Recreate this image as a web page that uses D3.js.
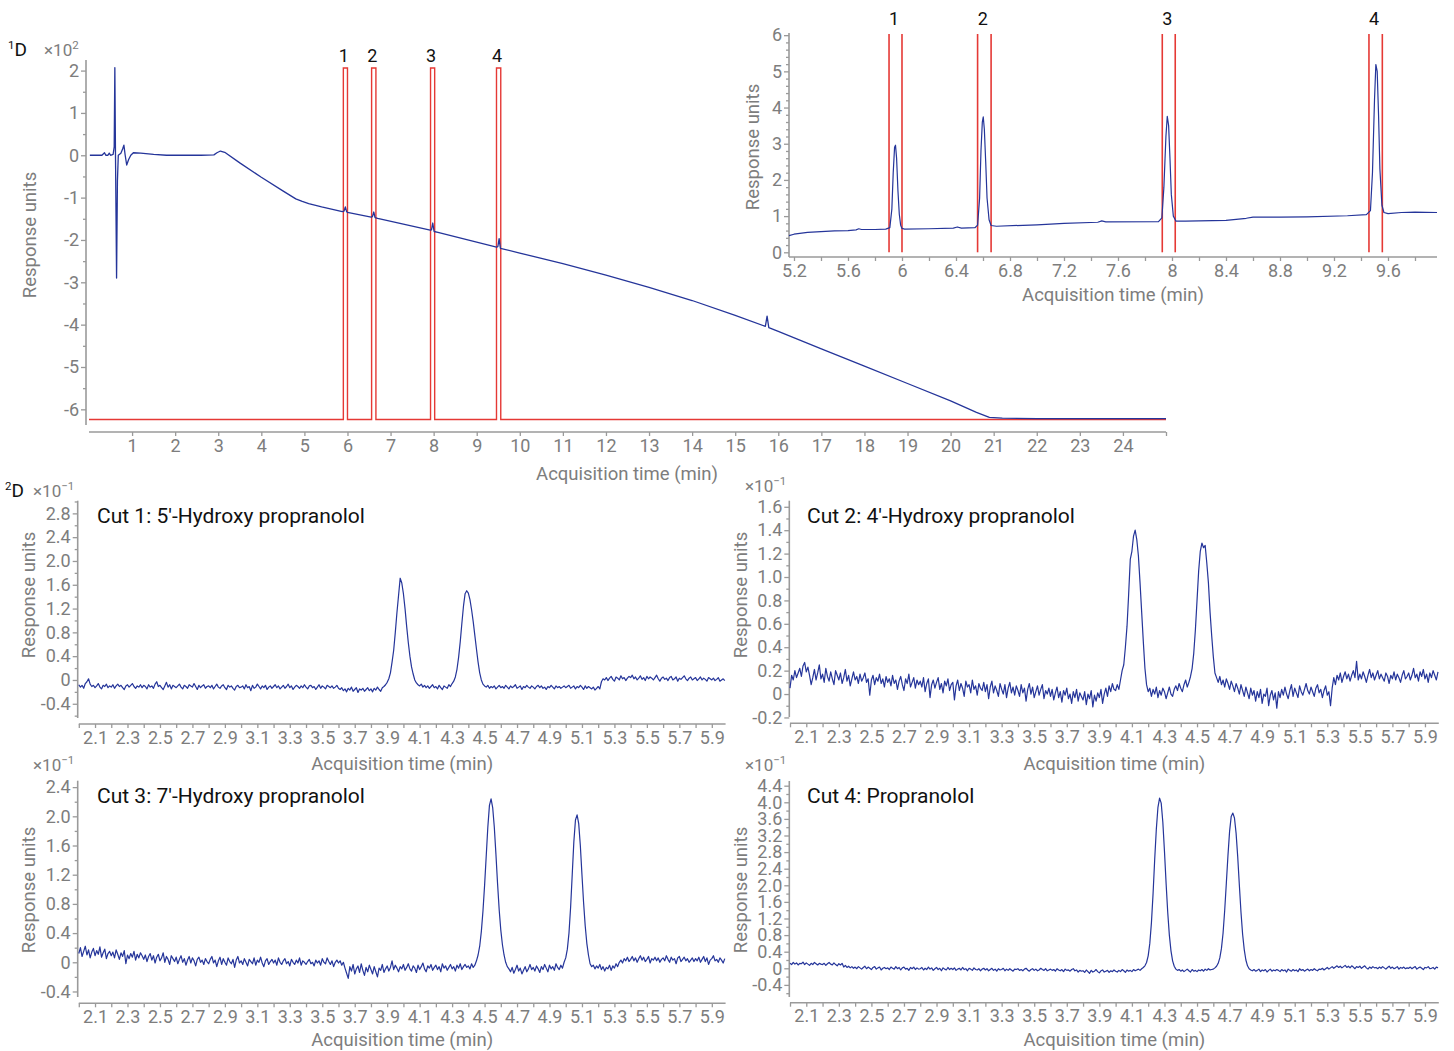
<!DOCTYPE html>
<html><head><meta charset="utf-8">
<script src="https://cdn.jsdelivr.net/npm/d3@7"></script>
<style>body{margin:0;background:#fff;} svg{display:block;} text{font-family:Roboto,"Noto Sans",sans-serif;}</style>
</head><body>
<svg id="chart" width="1454" height="1051"></svg>
<script>
// ================= DATA =================
// 1D chromatogram (x10^2 response units) : [time min, value]
const mainTrace = [
[0.02,0],[0.3,0],[0.36,0.06],[0.39,0.0],[0.44,0.0],[0.47,0.05],[0.5,0.0],[0.56,0.02],[0.585,0.2],[0.6,2.07],
[0.615,0.0],[0.64,-2.9],[0.66,-0.6],[0.68,0.0],[0.74,0.05],[0.78,0.15],[0.81,0.24],[0.84,0.0],[0.875,-0.23],[0.92,-0.1],
[0.97,0.0],[1.03,0.06],[1.2,0.05],[1.5,0.02],[1.8,0.0],[2.2,0.0],[2.6,0.0],[2.9,0.01],[2.97,0.06],[3.05,0.1],
[3.15,0.07],[3.5,-0.18],[4.0,-0.52],[4.5,-0.84],[4.8,-1.03],[4.95,-1.09],[5.1,-1.14],[5.4,-1.22],[5.88,-1.33],[5.92,-1.32],
[5.95,-1.22],[5.98,-1.33],[6.0,-1.35],[6.55,-1.46],[6.58,-1.45],[6.61,-1.34],[6.64,-1.47],[6.7,-1.49],[7.92,-1.77],[7.95,-1.76],
[7.98,-1.6],[8.01,-1.8],[8.1,-1.82],[9.46,-2.17],[9.49,-2.16],[9.52,-1.97],[9.55,-2.2],[9.6,-2.21],[10,-2.31],[11,-2.56],
[12,-2.83],[13,-3.12],[14,-3.43],[15,-3.78],[15.7,-4.04],[15.74,-3.8],[15.78,-4.07],[16,-4.16],[17,-4.57],[18,-4.98],
[19,-5.39],[20,-5.8],[20.6,-6.07],[20.9,-6.19],[21.2,-6.21],[22,-6.22],[25,-6.22]
];
// heart-cut windows (min)
const cutWindows = [[5.904,6.0],[6.56,6.66],[7.928,8.024],[9.459,9.558]];
const cutNumbers = ["1","2","3","4"];
const cutSignalLow = -6.24, cutSignalHigh = 2.06;   // 1D cut-valve trace levels (x10^2)
const cutSignalEnd = 25;

// zoomed 1D view (response units): [time, value]
const insetTrace = [
[5.163,0.46],[5.2,0.5],[5.3,0.55],[5.4,0.57],[5.5,0.59],[5.6,0.6],[5.66,0.62],[5.68,0.65],[5.7,0.63],[5.8,0.63],
[5.88,0.64],[5.91,0.68],[5.925,1.2],[5.935,2.2],[5.945,2.9],[5.952,2.96],[5.96,2.6],[5.97,1.7],[5.98,1.05],[5.99,0.75],
[6.0,0.66],[6.02,0.64],[6.2,0.65],[6.38,0.67],[6.41,0.7],[6.44,0.67],[6.54,0.68],[6.56,0.75],[6.575,1.5],[6.585,2.8],
[6.595,3.6],[6.602,3.74],[6.61,3.4],[6.62,2.5],[6.63,1.5],[6.645,0.9],[6.66,0.74],[6.7,0.72],[7.0,0.76],[7.2,0.8],
[7.45,0.83],[7.48,0.87],[7.51,0.84],[7.9,0.85],[7.925,0.95],[7.94,1.8],[7.955,3.2],[7.965,3.76],[7.975,3.5],[7.985,2.6],
[7.995,1.6],[8.01,1.0],[8.03,0.86],[8.1,0.86],[8.4,0.88],[8.55,0.94],[8.6,0.97],[8.8,0.97],[9.0,0.98],[9.3,1.01],
[9.44,1.04],[9.47,1.15],[9.485,2.2],[9.5,4.2],[9.51,5.19],[9.52,5.0],[9.53,3.8],[9.54,2.3],[9.555,1.3],[9.57,1.1],
[9.6,1.07],[9.7,1.1],[9.8,1.11],[9.963,1.1]
];

// 2D traces: samples every 0.01 min from 2.00 min, values in hundredths (x10^-1 response units)
const cutStart = 2.0, cutStep = 0.01;
const cut1Values = [
-8,-12,-9,-14,-6,-3,2,-7,-11,-9,-13,-10,-6,-12,-15,-9,-11,-7,-13,-10,
-12,-8,-14,-10,-7,-11,-9,-13,-16,-10,-8,-12,-9,-6,-11,-14,-10,-12,-8,-13,
-9,-11,-15,-8,-12,-10,-14,-7,-3,-11,-9,-13,-16,-10,-4,-12,-8,-15,-9,-11,
-13,-10,-7,-12,-15,-9,-11,-14,-8,-10,-12,-6,-11,-16,-9,-13,-10,-8,-14,-11,
-10,-13,-9,-15,-11,-7,-12,-14,-10,-8,-13,-16,-9,-12,-10,-14,-17,-11,-9,-13,
-12,-10,-15,-8,-13,-11,-18,-9,-14,-12,-7,-11,-15,-10,-13,-9,-16,-12,-10,-14,
-11,-8,-13,-10,-15,-12,-9,-14,-11,-7,-13,-10,-16,-12,-9,-11,-14,-10,-13,-8,
-12,-15,-10,-9,-13,-11,-16,-12,-8,-14,-10,-12,-15,-9,-11,-13,-10,-14,-12,-9,
-14,-16,-13,-18,-15,-20,-14,-17,-12,-19,-16,-13,-21,-15,-17,-14,-19,-16,-13,-18,
-15,-20,-14,-17,-12,-16,-19,-13,-11,-8,-4,2,12,30,50,80,113,142,171,163,
145,120,90,63,40,22,10,0,-5,-8,-10,-7,-12,-9,-13,-10,-14,-11,-8,-13,
-11,-15,-9,-13,-16,-10,-12,-14,-8,-11,-6,-2,5,18,38,64,95,124,145,150,
146,135,118,98,75,52,30,12,0,-7,-10,-12,-9,-14,-11,-13,-10,-15,-12,-9,
-13,-11,-14,-9,-12,-15,-10,-13,-11,-8,-14,-12,-10,-16,-11,-13,-9,-12,-14,-10,
-12,-15,-11,-9,-13,-10,-14,-12,-16,-11,-13,-9,-12,-15,-10,-13,-11,-14,-12,-10,
-13,-11,-9,-14,-12,-10,-15,-11,-13,-9,-12,-16,-10,-14,-11,-13,-15,-12,-17,-14,
-11,-15,-3,2,0,4,-1,3,6,1,-2,5,3,0,7,2,4,-1,3,6,
4,8,2,5,0,3,7,1,4,-1,6,2,5,3,0,4,8,2,-2,3,
5,1,3,-1,4,6,0,2,5,-2,3,1,4,7,2,-1,3,5,0,2,
4,-1,2,5,0,3,1,-2,4,2,0,3,-1,1,4,-2,0,2,-1,1
];
const cut2Values = [
5,16,12,20,14,18,22,15,24,27,19,23,16,8,14,21,12,18,25,13,
17,10,22,15,11,19,13,8,20,16,12,18,9,14,21,11,16,7,13,19,
12,15,9,17,11,14,18,10,13,-1,12,16,8,14,11,17,9,13,6,15,
10,13,7,16,9,12,4,11,15,8,3,13,9,17,6,10,14,5,12,8,
11,6,14,2,9,13,-3,8,12,5,10,14,4,9,1,11,7,13,3,8,
10,-5,7,12,3,9,5,-2,11,6,8,1,12,4,7,-1,9,5,3,10,
2,8,-4,6,11,1,7,3,-2,9,4,0,8,-3,5,10,1,6,-1,7,
3,-2,8,1,5,-6,4,9,0,6,-3,2,7,-1,4,8,-4,3,0,5,
-2,4,-5,1,6,-3,2,-7,3,-1,5,-4,0,-8,2,-3,4,-6,1,-2,
-5,2,-9,0,-4,3,-11,-1,-6,1,-3,4,-8,0,5,-2,7,2,9,4,
3,8,4,12,20,25,40,58,85,115,122,135,140,132,118,95,70,45,22,8,
2,5,-2,4,0,6,-3,3,-1,5,2,-4,1,6,0,-2,4,7,3,9,
5,2,8,12,6,10,15,22,35,55,80,105,122,129,125,127,112,95,70,50,
32,18,14,10,15,8,12,6,13,9,4,11,7,2,9,5,0,8,3,-2,
6,1,-4,5,-1,3,-6,2,-3,4,-8,0,-2,5,-10,-1,3,-5,1,-12,
2,-3,4,-1,6,0,-4,3,8,-2,5,1,-3,7,2,-1,4,9,3,0,
6,2,-2,5,8,1,4,-3,3,7,-1,2,-10,5,14,8,16,12,18,10,
15,19,13,17,11,16,20,14,28,12,17,13,19,15,10,16,21,14,18,12,
16,20,13,17,14,11,18,15,9,16,13,19,12,17,14,10,16,20,13,15,
18,12,16,22,14,17,11,19,15,21,13,17,10,18,14,20,16,12,19,15
];
const cut3Values = [
12,20,8,15,22,10,17,6,14,19,9,16,11,21,7,13,18,5,12,15,
9,14,6,17,11,4,13,8,16,-2,10,5,12,7,15,3,11,6,13,9,
4,10,1,8,12,3,9,-1,7,11,2,6,13,0,8,4,-3,9,5,1,
7,-2,4,9,0,5,-4,3,8,-1,6,2,-5,4,7,0,3,-3,5,1,
-2,4,8,-1,3,-6,2,7,-3,5,0,-4,6,1,-2,4,-7,3,8,-1,
2,-3,5,0,-5,4,1,-2,6,-4,3,0,7,-1,-6,2,5,-3,1,4,
-1,3,-4,6,0,-3,2,5,-2,1,-5,4,0,-3,3,-1,6,-4,2,0,
-3,1,4,-2,0,-5,3,-1,2,-4,5,0,-2,6,1,-3,2,-6,0,3,
-1,2,-4,0,-8,-15,-22,-6,-12,-3,-16,-9,-5,-14,-2,-11,-18,-7,-13,-4,
-10,-16,-6,-13,-20,-8,-11,-3,-14,-9,-5,-12,-7,2,-10,-4,-8,-13,-6,-9,
-3,-11,-7,-2,-9,-12,-5,-8,-14,-4,-10,-6,-1,-9,-13,-5,-8,-3,-11,-7,
-4,-10,-6,-13,-2,-8,-5,-11,-7,-3,-9,-6,-12,-4,-8,-2,-10,-6,-3,-7,
-5,-9,-2,-7,-4,2,10,22,42,70,105,145,185,215,224,212,185,148,108,72,
44,24,10,0,-6,-9,-13,-7,-15,-10,-4,-12,-8,-16,-11,-6,-13,-9,-3,-10,
-7,-12,-5,-9,-14,-6,-10,-3,-8,-13,-4,-9,-6,-11,-2,-7,-10,-4,-8,0,
6,18,40,75,120,165,195,202,190,160,120,82,50,26,10,-2,-6,-4,-9,-5,
-8,-3,-10,-6,-12,-7,-9,-4,-11,-5,-8,-2,-6,0,3,-1,5,2,7,1,
4,8,2,6,0,5,9,3,7,1,4,8,-1,5,3,7,2,6,0,4,
6,2,9,4,0,7,3,5,-2,6,8,1,4,7,2,5,0,3,6,1,
5,2,7,0,4,8,1,6,-3,3,5,9,2,4,0,6,3,-1,5,2
];
const cut4Values = [
12,9,14,10,13,8,12,11,15,9,13,10,7,12,9,14,11,8,12,10,
9,12,7,11,14,10,8,13,9,6,11,8,12,3,7,2,5,1,4,0,
3,-1,4,1,-2,2,5,-1,3,0,-3,2,4,-2,1,3,-4,0,2,-1,
1,-3,3,0,-2,4,-1,2,-4,1,3,-2,0,-5,2,-1,3,-3,1,-2,
-1,2,-4,0,-3,3,-2,1,-5,-1,2,-3,0,-6,1,-2,-4,2,-3,0,
-3,1,-5,-2,0,-4,2,-3,-1,-6,0,-2,-5,1,-3,-4,-1,-6,-2,0,
-4,-1,-6,-3,0,-5,-2,-7,-1,-4,-3,0,-6,-2,-5,-1,-4,-7,-2,-3,
-1,-5,-3,-6,-2,0,-4,-7,-3,-1,-5,-2,-6,-4,0,-3,-5,-1,-6,-4,
-2,-5,-3,-7,-1,-4,-6,-3,-8,-2,-5,-4,-7,-3,-1,-6,-4,-9,-5,-7,
-6,-10,-4,-8,-12,-5,-9,-7,-3,-8,-11,-6,-4,-9,-7,-5,-10,-6,-8,-4,
-7,-9,-5,-8,-3,-6,-10,-4,-7,-5,-8,-3,-6,-4,-2,-5,-1,2,6,14,
30,60,110,180,262,335,388,410,398,352,282,205,135,80,42,18,5,-2,-5,-3,
-7,-4,-8,-5,-2,-6,-9,-3,-7,-5,-8,-4,-6,-3,-7,-2,-5,-1,-4,-3,
-2,1,5,12,25,48,85,140,205,272,330,366,374,362,325,268,200,135,82,45,
20,6,-1,-4,-6,-3,-7,-5,-2,-8,-4,-6,-3,-9,-5,-2,-7,-4,-6,-3,
-5,-8,-3,-6,-4,-9,-2,-5,-7,-3,-6,-4,-8,-1,-5,-3,-7,-4,-2,-6,
-3,-5,-1,-4,-6,-2,-3,0,-4,-1,2,-2,1,4,0,3,6,2,5,1,
4,7,2,5,1,6,3,-1,4,2,5,0,3,6,1,-2,3,0,4,1,
2,-1,3,0,4,1,-2,2,5,0,3,-1,1,4,-2,2,0,3,-1,1,
0,3,-1,2,4,-2,1,3,0,-3,2,1,4,-1,0,2,-2,3,1,0
];
const cutTitles = ["Cut 1: 5'-Hydroxy propranolol","Cut 2: 4'-Hydroxy propranolol","Cut 3: 7'-Hydroxy propranolol","Cut 4: Propranolol"];

// tick values
const mainXTicks = [1,2,3,4,5,6,7,8,9,10,11,12,13,14,15,16,17,18,19,20,21,22,23,24];
const mainXEnd = [25];
const mainYTicks = [-6,-5,-4,-3,-2,-1,0,1,2];
const mainYMinor = [-5.5,-4.5,-3.5,-2.5,-1.5,-0.5,0.5,1.5];
const insetXTicks = [5.2,5.6,6,6.4,6.8,7.2,7.6,8,8.4,8.8,9.2,9.6];
const insetXMinor = [5.4,5.8,6.2,6.6,7.0,7.4,7.8,8.2,8.6,9.0,9.4,9.8];
const insetYTicks = [0,1,2,3,4,5,6];
const insetYMinor = [0.2,0.4,0.6,0.8,1.2,1.4,1.6,1.8,2.2,2.4,2.6,2.8,3.2,3.4,3.6,3.8,4.2,4.4,4.6,4.8,5.2,5.4,5.6,5.8];
const cutXTicks = [2.1,2.3,2.5,2.7,2.9,3.1,3.3,3.5,3.7,3.9,4.1,4.3,4.5,4.7,4.9,5.1,5.3,5.5,5.7,5.9];
const cutXMinor = [2.0,2.2,2.4,2.6,2.8,3.0,3.2,3.4,3.6,3.8,4.0,4.2,4.4,4.6,4.8,5.0,5.2,5.4,5.6,5.8];
const cut1YTicks = [-0.4,0,0.4,0.8,1.2,1.6,2.0,2.4,2.8];
const cut1YMinor = [-0.6,-0.2,0.2,0.6,1.0,1.4,1.8,2.2,2.6,3.0];
const cut2YTicks = [-0.2,0,0.2,0.4,0.6,0.8,1.0,1.2,1.4,1.6];
const cut2YMinor = [-0.1,0.1,0.3,0.5,0.7,0.9,1.1,1.3,1.5];
const cut3YTicks = [-0.4,0,0.4,0.8,1.2,1.6,2.0,2.4];
const cut3YMinor = [-0.2,0.2,0.6,1.0,1.4,1.8,2.2];
const cut4YTicks = [-0.4,0,0.4,0.8,1.2,1.6,2.0,2.4,2.8,3.2,3.6,4.0,4.4];
const cut4YMinor = [-0.6,-0.2,0.2,0.6,1.0,1.4,1.8,2.2,2.6,3.0,3.4,3.8,4.2];

// ================= DRAWING =================
const svg = d3.select("#chart");
const AXIS = "#9a9a9a", LABEL = "#7d7d7d", BLUE = "#25359a", RED = "#e53935", FONT = "Roboto, 'Noto Sans', sans-serif";
const TICKFS = 18, TITLEFS = 18.5;

function styleAxis(g, fs) {
  g.attr("font-family", FONT).attr("font-size", fs);
  g.select(".domain").remove();
  g.selectAll(".tick line").attr("stroke", AXIS).attr("stroke-width", 1.3);
  g.selectAll(".tick text").attr("fill", LABEL);
}
function hline(y, x1, x2) { svg.append("line").attr("x1", x1).attr("x2", x2).attr("y1", y).attr("y2", y).attr("stroke", AXIS).attr("stroke-width", 1.6); }
function vline(x, y1, y2) { svg.append("line").attr("x1", x).attr("x2", x).attr("y1", y1).attr("y2", y2).attr("stroke", AXIS).attr("stroke-width", 1.6); }
function ytitle(cx, cy) {
  svg.append("text").attr("transform", `translate(${cx},${cy}) rotate(-90)`).attr("text-anchor", "middle")
    .attr("dominant-baseline", "central").attr("font-size", TITLEFS).attr("fill", LABEL).text("Response units");
}
function xtitle(cx, y) {
  svg.append("text").attr("x", cx).attr("y", y).attr("text-anchor", "middle").attr("font-size", TITLEFS).attr("fill", LABEL).text("Acquisition time (min)");
}
function multiplier(x, y, exp) {
  const t = svg.append("text").attr("x", x).attr("y", y).attr("font-size", 17).attr("fill", LABEL);
  t.append("tspan").text("×10");
  t.append("tspan").attr("dy", -7).attr("font-size", 11.5).text(exp);
}
function dimLabel(x, y, sup) {
  const t = svg.append("text").attr("x", x).attr("y", y).attr("font-size", 19).attr("fill", "#111");
  t.append("tspan").attr("dy", -7).attr("font-size", 11.5).text(sup);
  t.append("tspan").attr("dy", 7).text("D");
}
function drawAxes(o) {
  svg.append("g").attr("transform", `translate(0,${o.xAxisY})`)
    .call(d3.axisBottom(o.x).tickValues(o.xTicks).tickSize(4).tickSizeOuter(0).tickPadding(3).tickFormat(o.xFmt))
    .call(g => styleAxis(g, o.fs));
  svg.append("g").attr("transform", `translate(0,${o.xAxisY})`)
    .call(d3.axisBottom(o.x).tickValues(o.xMinor).tickSize(o.xMinorSize).tickSizeOuter(0).tickFormat(() => ""))
    .call(g => styleAxis(g, o.fs));
  hline(o.xAxisY, o.x.range()[0], o.x.range()[1]);
  svg.append("g").attr("transform", `translate(${o.yAxisX},0)`)
    .call(d3.axisLeft(o.y).tickValues(o.yTicks).tickSize(5).tickSizeOuter(0).tickPadding(2).tickFormat(o.yFmt))
    .call(g => styleAxis(g, o.fs));
  svg.append("g").attr("transform", `translate(${o.yAxisX},0)`)
    .call(d3.axisLeft(o.y).tickValues(o.yMinor).tickSize(3).tickSizeOuter(0).tickFormat(() => ""))
    .call(g => styleAxis(g, o.fs));
  vline(o.yAxisX, o.yTop, o.yLineBottom);
}
const fmtDec = v => v === 0 ? "0" : v.toFixed(1);
const fmtPlain = v => String(v);

// ---------- 1D main chromatogram ----------
const mx = d3.scaleLinear().domain([0, 25]).range([89, 1166]);
const my = d3.scaleLinear().domain([-6.37, 2.25]).range([425, 60]);
drawAxes({x: mx, y: my, xAxisY: 432, yAxisX: 86, yTop: 60, yLineBottom: 425, xTicks: mainXTicks, xMinor: mainXEnd, xMinorSize: 4,
  yTicks: mainYTicks, yMinor: mainYMinor, xFmt: fmtPlain, yFmt: fmtPlain, fs: TICKFS});
const redPts = [[0, cutSignalLow]];
cutWindows.forEach(w => { redPts.push([w[0], cutSignalLow], [w[0], cutSignalHigh], [w[1], cutSignalHigh], [w[1], cutSignalLow]); });
redPts.push([cutSignalEnd, cutSignalLow]);
svg.append("path").attr("d", d3.line().x(d => mx(d[0])).y(d => my(d[1]))(redPts))
  .attr("fill", "none").attr("stroke", RED).attr("stroke-width", 1.4);
svg.append("path").attr("d", d3.line().x(d => mx(d[0])).y(d => my(d[1]))(mainTrace))
  .attr("fill", "none").attr("stroke", BLUE).attr("stroke-width", 1.3).attr("stroke-linejoin", "round");
cutWindows.forEach((w, i) => {
  svg.append("text").attr("x", mx((w[0] + w[1]) / 2) - 1.5).attr("y", 62).attr("text-anchor", "middle")
    .attr("font-size", 18).attr("fill", "#111").text(cutNumbers[i]);
});
dimLabel(8, 56, "1");
multiplier(44, 56, "2");
ytitle(30, 235);
xtitle(627, 480);

// ---------- inset ----------
const ix = d3.scaleLinear().domain([5.163, 9.963]).range([789, 1437]);
const iy = d3.scaleLinear().domain([-0.13, 6.06]).range([257, 33]);
drawAxes({x: ix, y: iy, xAxisY: 257, yAxisX: 789, yTop: 33, yLineBottom: 257, xTicks: insetXTicks, xMinor: insetXMinor, xMinorSize: 4,
  yTicks: insetYTicks, yMinor: insetYMinor, xFmt: fmtPlain, yFmt: fmtPlain, fs: TICKFS});
cutWindows.forEach((w, i) => {
  w.forEach(t => {
    svg.append("line").attr("x1", ix(t)).attr("x2", ix(t)).attr("y1", iy(0)).attr("y2", 34)
      .attr("stroke", RED).attr("stroke-width", 1.6);
  });
  svg.append("text").attr("x", ix((w[0] + w[1]) / 2) - 1.5).attr("y", 25).attr("text-anchor", "middle")
    .attr("font-size", 18).attr("fill", "#111").text(cutNumbers[i]);
});
svg.append("path").attr("d", d3.line().x(d => ix(d[0])).y(d => iy(d[1]))(insetTrace))
  .attr("fill", "none").attr("stroke", BLUE).attr("stroke-width", 1.2).attr("stroke-linejoin", "round");
ytitle(753, 147);
xtitle(1113, 301);

// ---------- 2D panels ----------
const panels = [
  {vals: cut1Values, title: cutTitles[0], x0: 78.8, x1: 725.6, yAxisX: 77.7, top: 500.7, xAxisY: 724, yDom: [-0.74, 3.013], yLineBottom: 718,
   yTicks: cut1YTicks, yMinor: cut1YMinor, titleX: 97, titleY: 523, ytX: 29, ytY: 595, xtY: 770, multX: 33, multY: 497},
  {vals: cut2Values, title: cutTitles[1], x0: 790, x1: 1438.8, yAxisX: 789.3, top: 500.7, xAxisY: 723.3, yDom: [-0.25, 1.652], yLineBottom: 717,
   yTicks: cut2YTicks, yMinor: cut2YMinor, titleX: 807, titleY: 523, ytX: 741, ytY: 595, xtY: 770, multX: 745, multY: 492},
  {vals: cut3Values, title: cutTitles[2], x0: 78.8, x1: 725.6, yAxisX: 77.7, top: 780.7, xAxisY: 1003.3, yDom: [-0.562, 2.488], yLineBottom: 997,
   yTicks: cut3YTicks, yMinor: cut3YMinor, titleX: 97, titleY: 803, ytX: 29, ytY: 890, xtY: 1046, multX: 33, multY: 771},
  {vals: cut4Values, title: cutTitles[3], x0: 790, x1: 1438.8, yAxisX: 789.3, top: 781, xAxisY: 1002.7, yDom: [-0.829, 4.513], yLineBottom: 997,
   yTicks: cut4YTicks, yMinor: cut4YMinor, titleX: 807, titleY: 803, ytX: 741, ytY: 890, xtY: 1046, multX: 745, multY: 771}
];
const cutDomain = [2.0, 5.985];
panels.forEach((p, k) => {
  const x = d3.scaleLinear().domain(cutDomain).range([p.x0, p.x1]);
  const y = d3.scaleLinear().domain(p.yDom).range([p.xAxisY, p.top]);
  drawAxes({x, y, xAxisY: p.xAxisY, yAxisX: p.yAxisX, yTop: p.top, yLineBottom: p.yLineBottom, xTicks: cutXTicks, xMinor: cutXMinor, xMinorSize: 4,
    yTicks: p.yTicks, yMinor: p.yMinor, xFmt: fmtPlain, yFmt: fmtDec, fs: TICKFS});
  const pts = p.vals.map((v, i) => [cutStart + i * cutStep, v / 100]).filter(d => d[0] <= cutDomain[1] + 1e-9);
  svg.append("path").attr("d", d3.line().x(d => x(d[0])).y(d => y(d[1]))(pts))
    .attr("fill", "none").attr("stroke", BLUE).attr("stroke-width", 1.2).attr("stroke-linejoin", "round");
  svg.append("text").attr("x", p.titleX).attr("y", p.titleY).attr("font-size", 21).attr("fill", "#111").text(p.title);
  ytitle(p.ytX, p.ytY);
  xtitle((p.x0 + p.x1) / 2, p.xtY);
  multiplier(p.multX, p.multY, "−1");
});
dimLabel(5, 497, "2");
</script>
</body></html>
